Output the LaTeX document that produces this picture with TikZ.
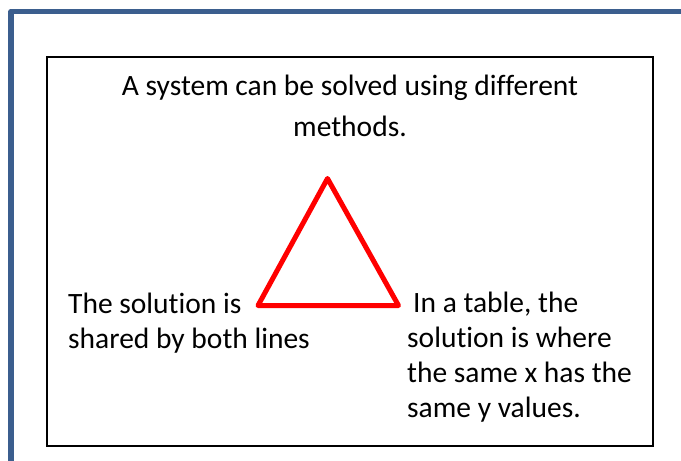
\documentclass[tikz,border=0pt]{standalone}
\usepackage{fontspec}
\setmainfont{Carlito}[Ligatures=NoCommon]
\usepackage{xcolor}
\definecolor{frameblue}{HTML}{3B5E8E}
\tikzset{
  frame/.style={
    line width=5.5pt,
    draw=frameblue,
    line join=round
  },
  box/.style={
    line width=2pt,
    draw=black
  },
  triangle/.style={
    line width=5pt,
    draw=red,
    line join=round
  },
  caption/.style={
    font=\fontsize{29.5}{35}\selectfont,
    inner sep=0pt,
    align=left
  }
}

\begin{document}
\begin{tikzpicture}[x=1pt,y=-1pt]
                \useasboundingbox (0,0) rectangle (681,461);

                \draw[frame] (11,470) -- (11,11.5) -- (690,11.5);
                \draw[box] (47,57) rectangle (653,446);

                \coordinate (apex) at (327.5,178.5);
                \coordinate (baseL) at (258,305.5);
                \coordinate (baseR) at (398.5,305.5);
                \draw[triangle] (apex) -- (baseR) -- (baseL) -- cycle;

                % base anchor sits on the last line
                \node[caption, align=center, font=\fontsize{29.5}{41}\selectfont, anchor=base] (title) at (350,136) {A system can be solved using different\\methods.};
                \node[caption, anchor=base west] (leftlabel) at (68,348) {The solution is\\shared by both lines};
                \node[caption, anchor=base west] (rightlabel) at (407,417) {\hspace{6pt}In a table, the\\solution is where\\the same x has the\\same y values.};
\end{tikzpicture}
\end{document}
